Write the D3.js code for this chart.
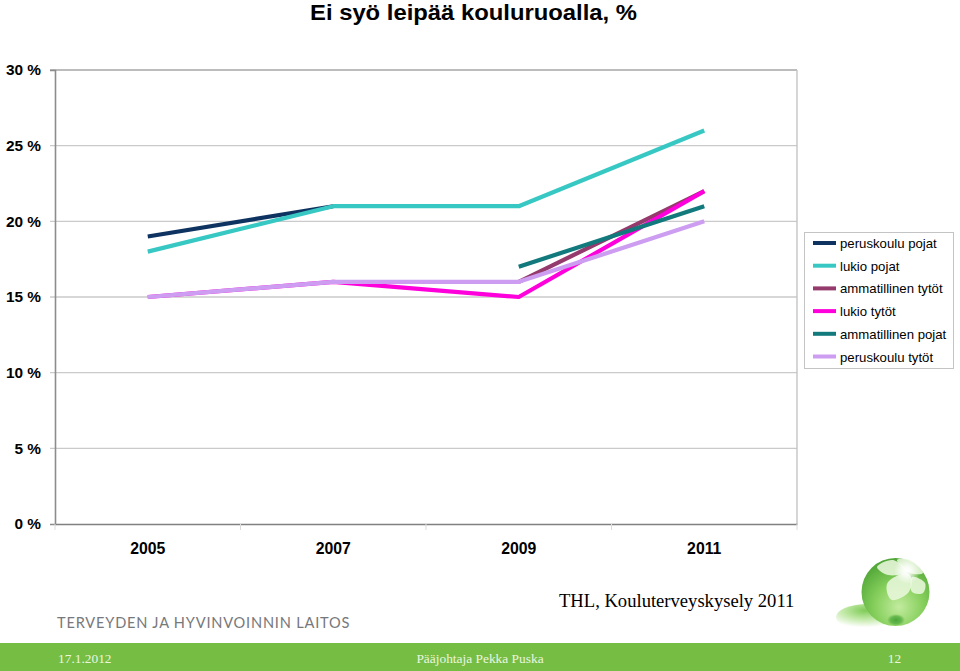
<!DOCTYPE html>
<html>
<head>
<meta charset="utf-8">
<script src="https://cdnjs.cloudflare.com/ajax/libs/d3/7.8.5/d3.min.js"></script>
<style>
    html, body { margin: 0; padding: 0; background: #fff; }
    svg { display: block; }
    text { font-family: "Liberation Sans", Arial, sans-serif; }
    .serif { font-family: "Liberation Serif", "Times New Roman", serif; }
</style>
</head>
<body>
<svg id="chart" width="960" height="671"></svg>
<script>
// Data
const years = ['2005', '2007', '2009', '2011'];
const yTicks = [0, 5, 10, 15, 20, 25, 30];

const seriesNames = ['peruskoulu pojat', 'lukio pojat', 'ammatillinen tytöt', 'lukio tytöt', 'ammatillinen pojat', 'peruskoulu tytöt'];
const seriesColors = ['#0f3360', '#38c8c4', '#953a6c', '#ff00dc', '#12797c', '#cc9df0'];

const peruskouluPojat = [19, 21, null, null];
const lukioPojat = [18, 21, 21, 26];
const ammatillinenTytot = [null, null, 16, 22];
const lukioTytot = [15, 16, 15, 22];
const ammatillinenPojat = [null, null, 17, 21];
const peruskouluTytot = [15, 16, 16, 20];
const seriesValues = [peruskouluPojat, lukioPojat, ammatillinenTytot, lukioTytot, ammatillinenPojat, peruskouluTytot];

const svg = d3.select('#chart');

// Scales
const x = d3.scaleBand().domain(years).range([55, 797]);
const y = d3.scaleLinear().domain([0, 30]).range([524, 70]);

// Title, slightly stretched like the original slide
svg.append('text')
    .attr('x', 310).attr('y', 20)
    .attr('font-size', 22).attr('font-weight', 'bold')
    .attr('textLength', 327).attr('lengthAdjust', 'spacingAndGlyphs')
    .attr('fill', '#000')
    .text('Ei syö leipää kouluruoalla, %');

// Gridlines, the top one is a bit darker in the original
svg.append('g').selectAll('line')
    .data(yTicks.filter(d => d > 0))
    .join('line')
    .attr('x1', 50).attr('x2', 797)
    .attr('y1', d => y(d)).attr('y2', d => y(d))
    .attr('stroke', d => d === 30 ? '#a6a6a6' : '#cacaca').attr('stroke-width', 1.4);

// Right border of the plot
svg.append('line')
    .attr('x1', 797).attr('x2', 797).attr('y1', 70).attr('y2', 524)
    .attr('stroke', '#c4c4c4').attr('stroke-width', 1.4);

// Y axis
const yAxis = d3.axisLeft(y)
    .tickValues(yTicks)
    .tickSize(5)
    .tickPadding(9)
    .tickFormat(d => d + ' %');
const yG = svg.append('g').attr('transform', 'translate(55,0)').call(yAxis);
yG.select('.domain').attr('stroke', '#8c8c8c').attr('stroke-width', 1.6);
yG.selectAll('.tick line').attr('stroke-opacity', 0);
yG.selectAll('.tick text')
    .attr('font-size', 15.4).attr('font-weight', 'bold').attr('fill', '#000')
    .style('font-family', '"Liberation Sans", Arial, sans-serif');

// X axis
const xAxis = d3.axisBottom(x).tickSize(0).tickPadding(19);
const xG = svg.append('g').attr('transform', 'translate(0,524)').call(xAxis);
xG.select('.domain').attr('stroke', '#808080').attr('stroke-width', 1.6);
xG.selectAll('.tick text')
    .attr('font-size', 15.8).attr('font-weight', 'bold').attr('fill', '#000')
    .style('font-family', '"Liberation Sans", Arial, sans-serif');

// Ticks between the categories
svg.append('g').selectAll('line')
    .data(years.concat(['end']))
    .join('line')
    .attr('x1', (d, i) => i < years.length ? x(d) : x.range()[1])
    .attr('x2', (d, i) => i < years.length ? x(d) : x.range()[1])
    .attr('y1', 524).attr('y2', 530)
    .attr('stroke', '#dcdcdc');

// Lines
const line = d3.line()
    .defined(d => d !== null)
    .x((d, i) => x(years[i]) + x.bandwidth() / 2)
    .y(d => y(d));

svg.append('g').selectAll('path')
    .data(seriesValues)
    .join('path')
    .attr('d', d => line(d))
    .attr('fill', 'none')
    .attr('stroke', (d, i) => seriesColors[i])
    .attr('stroke-width', 4.2)
    .attr('stroke-linejoin', 'round');

// Legend
const legend = svg.append('g');
legend.append('rect')
    .attr('x', 804.5).attr('y', 232.5).attr('width', 149).attr('height', 136)
    .attr('fill', '#fff').attr('stroke', '#c4c4c4');

const legendRow = d3.scalePoint().domain(seriesNames).range([243, 356.5]);
const rows = legend.selectAll('g')
    .data(seriesNames)
    .join('g')
    .attr('transform', d => `translate(0,${legendRow(d)})`);
rows.append('line')
    .attr('x1', 813).attr('x2', 836)
    .attr('stroke', (d, i) => seriesColors[i])
    .attr('stroke-width', 4);
rows.append('text')
    .attr('x', 840).attr('y', 5)
    .attr('font-size', 13.2).attr('fill', '#000')
    .text(d => d);

// Source and organisation
svg.append('text')
    .attr('class', 'serif')
    .attr('x', 559).attr('y', 607)
    .attr('font-size', 18.6).attr('fill', '#000')
    .text('THL, Kouluterveyskysely 2011');

svg.append('text')
    .attr('x', 57).attr('y', 627.5)
    .attr('font-size', 14.6).attr('fill', '#77787b')
    .style('font-family', 'Lato, sans-serif')
    .attr('letter-spacing', 0.8)
    .text('TERVEYDEN JA HYVINVOINNIN LAITOS');

// Footer band
svg.append('rect')
    .attr('x', 0).attr('y', 643).attr('width', 960).attr('height', 28)
    .attr('fill', '#76bd43');

const footerItems = [
    { text: '17.1.2012', x: 58, anchor: 'start' },
    { text: 'Pääjohtaja Pekka Puska', x: 480, anchor: 'middle' },
    { text: '12', x: 894.5, anchor: 'middle' }
];
svg.append('g').selectAll('text')
    .data(footerItems)
    .join('text')
    .attr('class', 'serif')
    .attr('x', d => d.x).attr('y', 663)
    .attr('text-anchor', d => d.anchor)
    .attr('font-size', 13.4).attr('fill', '#eaf6e0')
    .text(d => d.text);

// Logo ball
const defs = svg.append('defs');
const ballGrad = defs.append('radialGradient')
    .attr('id', 'ballGrad').attr('cx', '0.55').attr('cy', '0.72').attr('r', '0.72');
ballGrad.append('stop').attr('offset', '0').attr('stop-color', '#c2eb9e');
ballGrad.append('stop').attr('offset', '0.5').attr('stop-color', '#86cf5c');
ballGrad.append('stop').attr('offset', '1').attr('stop-color', '#4fa536');
const shadowGrad = defs.append('radialGradient')
    .attr('id', 'shadowGrad').attr('cx', '0.45').attr('cy', '0.25').attr('r', '0.65');
shadowGrad.append('stop').attr('offset', '0').attr('stop-color', '#7fcb58');
shadowGrad.append('stop').attr('offset', '0.5').attr('stop-color', '#bfe8a4');
shadowGrad.append('stop').attr('offset', '1').attr('stop-color', '#fff');
const spotGrad = defs.append('radialGradient').attr('id', 'spotGrad');
spotGrad.append('stop').attr('offset', '0').attr('stop-color', '#4aa63a');
spotGrad.append('stop').attr('offset', '0.6').attr('stop-color', '#56ae40').attr('stop-opacity', 0.8);
spotGrad.append('stop').attr('offset', '1').attr('stop-color', '#56ae40').attr('stop-opacity', 0);
const glowGrad = defs.append('radialGradient').attr('id', 'glowGrad');
glowGrad.append('stop').attr('offset', '0').attr('stop-color', '#fff');
glowGrad.append('stop').attr('offset', '0.35').attr('stop-color', '#fff').attr('stop-opacity', 0.8);
glowGrad.append('stop').attr('offset', '1').attr('stop-color', '#fff').attr('stop-opacity', 0);

const logo = svg.append('g');
logo.append('ellipse')
    .attr('cx', 868).attr('cy', 617).attr('rx', 32).attr('ry', 13)
    .attr('fill', 'url(#shadowGrad)');
logo.append('circle')
    .attr('cx', 895.5).attr('cy', 592).attr('r', 34)
    .attr('fill', 'url(#ballGrad)');
logo.append('ellipse')
    .attr('cx', 896).attr('cy', 620).attr('rx', 9).attr('ry', 6)
    .attr('fill', 'url(#spotGrad)');

// Flower petals on the ball
const petals = [
    [[877, 567], [893, 560], [907, 572], [888, 575]],
    [[907, 573], [888, 582], [887, 592], [892, 600], [908, 593], [912, 580]],
    [[912, 577], [925, 583], [923, 593], [912, 592]],
    [[897, 560], [910, 560], [923, 573], [910, 573]]
];
const petalPath = d3.line().curve(d3.curveCatmullRomClosed.alpha(0.5));
logo.append('g').selectAll('path')
    .data(petals)
    .join('path')
    .attr('d', d => petalPath(d))
    .attr('fill', '#e8f7dc').attr('opacity', 0.88);
logo.append('circle')
    .attr('cx', 907).attr('cy', 571).attr('r', 13)
    .attr('fill', 'url(#glowGrad)');
</script>
</body>
</html>
